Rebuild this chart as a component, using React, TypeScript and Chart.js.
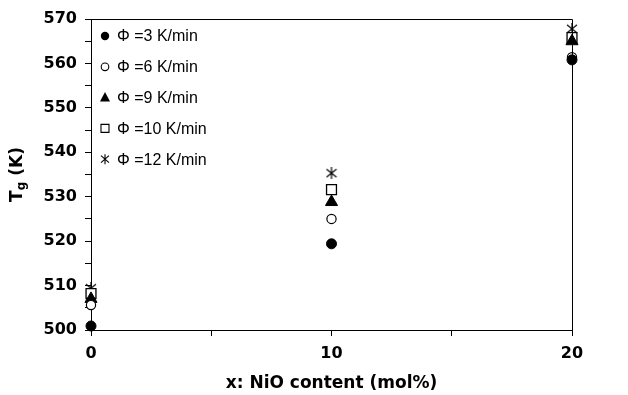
import React, { useEffect, useRef } from 'react';
import { Chart, registerables } from 'chart.js';

Chart.register(...registerables);

// ---- data ----
const nioContent = [0, 10, 20];
const heatingRates = [3, 6, 9, 10, 12];
const tgRate3 = [500.9, 519.4, 560.8];
const tgRate6 = [505.6, 525.0, 561.4];
const tgRate9 = [507.0, 528.8, 565.0];
const tgRate10 = [508.2, 531.6, 565.8];
const tgRate12 = [509.4, 535.3, 567.8];
const xTickLabels = [0, 10, 20];
const yTickLabels = [500, 510, 520, 530, 540, 550, 560, 570];

const seriesValues = [tgRate3, tgRate6, tgRate9, tgRate10, tgRate12];
const seriesStyles = ['dot', 'ring', 'triangle', 'square', 'star'];

const BOLD_FONT = "'DejaVu Sans', 'Liberation Sans', Arial, sans-serif";
const LEGEND_FONT = "'Liberation Sans', Arial, sans-serif";

function makeStar(size: number, lw: number): HTMLCanvasElement {
  const c = document.createElement('canvas');
  c.width = size;
  c.height = size;
  const g = c.getContext('2d')!;
  g.strokeStyle = '#000';
  g.lineWidth = lw;
  const m = 1;
  g.beginPath();
  g.moveTo(m, m + 1);
  g.lineTo(size - m, size - m - 1);
  g.moveTo(size - m, m + 1);
  g.lineTo(m, size - m - 1);
  g.moveTo(size / 2, 0);
  g.lineTo(size / 2, size);
  g.stroke();
  return c;
}

function drawMarker(ctx: CanvasRenderingContext2D, style: string, x: number, y: number) {
  ctx.save();
  ctx.strokeStyle = '#000';
  ctx.fillStyle = '#000';
  ctx.lineWidth = 1.1;
  ctx.beginPath();
  if (style === 'dot') {
    ctx.arc(x, y, 4.2, 0, Math.PI * 2);
    ctx.fill();
  } else if (style === 'ring') {
    ctx.arc(x, y, 3.8, 0, Math.PI * 2);
    ctx.stroke();
  } else if (style === 'triangle') {
    ctx.moveTo(x, y - 5.5);
    ctx.lineTo(x + 5, y + 4);
    ctx.lineTo(x - 5, y + 4);
    ctx.closePath();
    ctx.fill();
  } else if (style === 'square') {
    ctx.rect(x - 4, y - 4, 8, 8);
    ctx.stroke();
  } else {
    ctx.moveTo(x - 4, y - 3.5);
    ctx.lineTo(x + 4, y + 3.5);
    ctx.moveTo(x + 4, y - 3.5);
    ctx.lineTo(x - 4, y + 3.5);
    ctx.moveTo(x, y - 5);
    ctx.lineTo(x, y + 5);
    ctx.stroke();
  }
  ctx.restore();
}

const decorPlugin = {
  id: 'decor',
  afterDraw(chart: any) {
    const { ctx, chartArea: a } = chart;
    ctx.save();
    // top and right frame lines
    ctx.strokeStyle = '#000';
    ctx.lineWidth = 1;
    ctx.beginPath();
    ctx.moveTo(a.left, Math.round(a.top) + 0.5);
    ctx.lineTo(Math.round(a.right) + 0.5, Math.round(a.top) + 0.5);
    ctx.lineTo(Math.round(a.right) + 0.5, a.bottom);
    ctx.stroke();

    // legend inside plot, top-left
    const rowY0 = a.top + 17;
    const rowGap = 30.8;
    chart.data.datasets.forEach((ds: any, i: number) => {
      const y = rowY0 + i * rowGap;
      drawMarker(ctx, seriesStyles[i], a.left + 14, y);
      ctx.fillStyle = '#000';
      ctx.font = `16px ${LEGEND_FONT}`;
      ctx.textBaseline = 'middle';
      ctx.textAlign = 'left';
      ctx.fillText(ds.label, a.left + 26, y + 1);
    });

    // y axis title with subscript
    const cy = (a.top + a.bottom) / 2;
    ctx.translate(22, cy);
    ctx.rotate(-Math.PI / 2);
    ctx.textBaseline = 'alphabetic';
    ctx.textAlign = 'left';
    const big = `bold 17px ${BOLD_FONT}`;
    const small = `bold 12px ${BOLD_FONT}`;
    ctx.font = big;
    const wT = ctx.measureText('T').width;
    const wK = ctx.measureText(' (K)').width;
    ctx.font = small;
    const wg = ctx.measureText('g').width;
    const total = wT + wg + wK;
    let x = -total / 2;
    ctx.font = big;
    ctx.fillText('T', x, 0);
    x += wT;
    ctx.font = small;
    ctx.fillText('g', x, 3);
    x += wg;
    ctx.font = big;
    ctx.fillText(' (K)', x, 0);
    ctx.restore();
  },
};

export default function App() {
  const ref = useRef<HTMLCanvasElement>(null);

  useEffect(() => {
    const canvas = ref.current!;
    const star = makeStar(12, 1.2);
    const pointOpts = [
      { pointStyle: 'circle', pointRadius: 5, backgroundColor: '#000', borderWidth: 1 },
      { pointStyle: 'circle', pointRadius: 4.6, backgroundColor: '#fff', borderWidth: 1.2 },
      { pointStyle: 'triangle', pointRadius: 7, backgroundColor: '#000', borderWidth: 1 },
      { pointStyle: 'rect', pointRadius: 7, backgroundColor: '#fff', borderWidth: 1.3 },
      { pointStyle: star, pointRadius: 6, backgroundColor: '#000', borderWidth: 1 },
    ];
    const datasets = heatingRates.map((rate, i) => ({
      label: `Φ =${rate} K/min`,
      data: nioContent.map((x, j) => ({ x, y: seriesValues[i][j] })),
      borderColor: '#000',
      showLine: false,
      clip: false as any,
      pointHoverRadius: pointOpts[i].pointRadius,
      ...pointOpts[i],
    }));

    const chart = new Chart(canvas, {
      type: 'scatter',
      data: { datasets },
      plugins: [decorPlugin],
      options: {
        animation: false,
        responsive: false,
        events: [],
        layout: { padding: { top: 19, right: 56, left: 0, bottom: 0 } },
        plugins: { legend: { display: false }, tooltip: { enabled: false } },
        scales: {
          x: {
            type: 'linear',
            min: 0,
            max: 20,
            afterFit: (s: any) => {
              s.height = 65;
            },
            ticks: {
              stepSize: 5,
              color: '#000',
              padding: 8,
              maxRotation: 0,
              font: { family: BOLD_FONT, size: 16, weight: 'bold' },
              callback: (v: any) => (xTickLabels.includes(Number(v)) ? String(v) : ''),
            },
            grid: { drawOnChartArea: false, drawTicks: true, tickLength: 6, color: '#000' },
            border: { display: true, color: '#000', width: 1 },
            title: {
              display: true,
              text: 'x: NiO content (mol%)',
              color: '#000',
              font: { family: BOLD_FONT, size: 17, weight: 'bold' },
              padding: { top: 0, bottom: 1 },
            },
          },
          y: {
            type: 'linear',
            min: 500,
            max: 570,
            afterFit: (s: any) => {
              s.width = 91;
            },
            ticks: {
              stepSize: 5,
              color: '#000',
              padding: 8,
              font: { family: BOLD_FONT, size: 16, weight: 'bold' },
              callback: (v: any) => (yTickLabels.includes(Number(v)) ? String(v) : ''),
            },
            grid: { drawOnChartArea: false, drawTicks: true, tickLength: 6, color: '#000' },
            border: { display: true, color: '#000', width: 1 },
          },
        },
      } as any,
    });
    return () => chart.destroy();
  }, []);

  return (
    <div style={{ position: 'fixed', left: 0, top: 0, width: 628, height: 395, background: '#fff' }}>
      <canvas ref={ref} width={628} height={395} style={{ display: 'block' }} />
    </div>
  );
}
